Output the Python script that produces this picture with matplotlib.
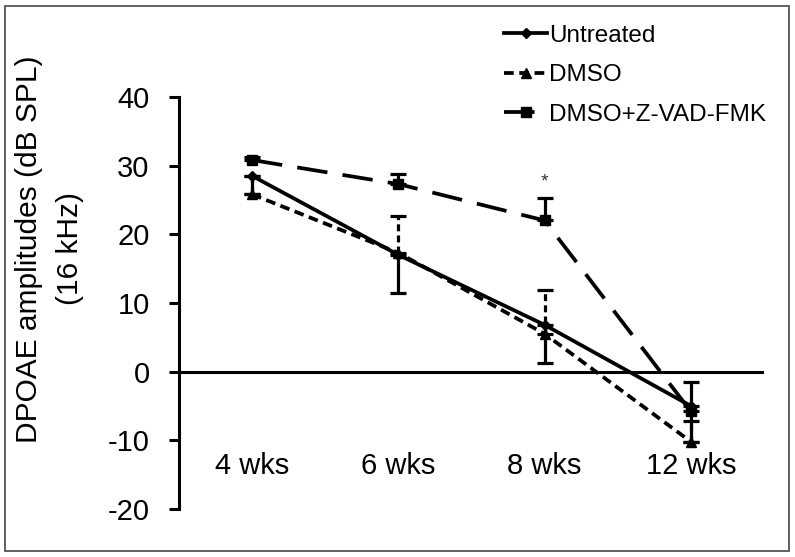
import numpy as np
import matplotlib
matplotlib.use('Agg')
import matplotlib.pyplot as plt
from matplotlib.patches import Rectangle

plt.rcParams['font.family'] = ['Liberation Sans', 'DejaVu Sans']
plt.rcParams['lines.scale_dashes'] = False
plt.rcParams['axes.unicode_minus'] = False

# values
weeks = ['4 wks', '6 wks', '8 wks', '12 wks']
untreated = [28.5, 17.0, 6.8, -5.0]
untreated_err = [2.7, 5.5, 5.6, 5.3]     # drawn downwards only
dmso = [25.8, 17.3, 5.5, -10.2]
dmso_err = [2.6, 5.3, 6.4, 3.0]          # drawn upwards only
zvad = [30.8, 27.3, 22.0, -5.8]
zvad_err = [0.4, 1.5, 3.3, 4.3]          # drawn upwards only
signif = [None, None, '*', None]

yticks = [-20, -10, 0, 10, 20, 30, 40]

fig = plt.figure(figsize=(7.95, 5.57), dpi=100)
ax = fig.add_axes([0.225, 0.0862, 0.736, 0.740])
x = np.arange(len(weeks))
zero = np.zeros(len(weeks))

# Untreated: solid, diamond
l1, c1, b1 = ax.errorbar(x, untreated, yerr=[untreated_err, zero], color='black', lw=2.7,
                         marker='D', ms=5, elinewidth=2.3, capsize=6, capthick=2.3,
                         label='Untreated', zorder=3)
# DMSO: short dashes, triangle
l2, c2, b2 = ax.errorbar(x, dmso, yerr=[zero, dmso_err], color='black', lw=2.7,
                         marker='^', ms=7, elinewidth=2.3, capsize=6, capthick=2.3,
                         label='DMSO', zorder=3)
l2.set_dashes((7, 4))
b2[0].set_linestyle((0, (5, 3)))
# DMSO+Z-VAD-FMK: long dashes, square
l3, c3, b3 = ax.errorbar(x, zvad, yerr=[zero, zvad_err], color='black', lw=2.7,
                         marker='s', ms=7, elinewidth=2.3, capsize=6, capthick=2.3,
                         label='DMSO+Z-VAD-FMK', zorder=3)
l3.set_dashes((22, 11))

for i, s in enumerate(signif):
    if s:
        ax.text(x[i], zvad[i] + zvad_err[i] + 1.0, s, ha='center', va='bottom', fontsize=14,
                color='#333333')

ax.set_xlim(-0.5, len(weeks) - 0.5)
ax.set_ylim(-20, 40)
ax.set_yticks(yticks)
ax.tick_params(axis='y', labelsize=21, width=2.2, length=7, direction='out', pad=14)
ax.axhline(0, color='black', lw=2.2, zorder=2)
for sp in ['top', 'right', 'bottom']:
    ax.spines[sp].set_visible(False)
ax.spines['left'].set_linewidth(2.2)
ax.set_xticks([])
for i, w in enumerate(weeks):
    ax.text(x[i], -13.8, w, ha='center', va='center', fontsize=21)

fig.text(0.037, 0.553, 'DPOAE amplitudes (dB SPL)', rotation=90, ha='center', va='center', fontsize=21.5)
fig.text(0.088, 0.553, '(16 kHz)', rotation=90, ha='center', va='center', fontsize=21.5)

fig.legend(handles=[l1, l2, l3], labels=['Untreated', 'DMSO', 'DMSO+Z-VAD-FMK'],
           loc='upper left', bbox_to_anchor=(0.607, 0.995), frameon=False, fontsize=17.5,
           handlelength=1.75, handletextpad=0.1, labelspacing=0.72)

fig.patches.append(Rectangle((0.006, 0.011), 0.987, 0.978, transform=fig.transFigure,
                             fill=False, edgecolor='#555555', lw=1.3))

fig.savefig('out.png', dpi=100)
